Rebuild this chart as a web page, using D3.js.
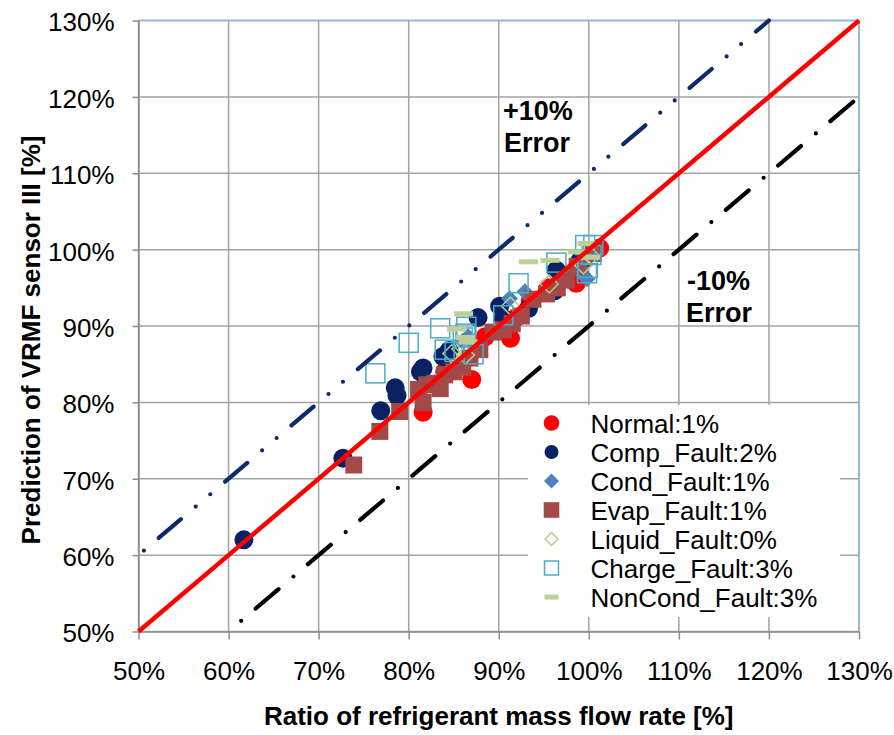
<!DOCTYPE html>
<html>
<head>
<meta charset="utf-8">
<script src="https://cdn.jsdelivr.net/npm/d3@7"></script>
<style>
  html, body { margin: 0; padding: 0; background: #ffffff; }
  svg { display: block; font-family: "Liberation Sans", Arial, sans-serif; }
</style>
</head>
<body>
<svg id="chart" width="894" height="735"></svg>
<script>
// Axis ticks (percent)
const xTicks = [50, 60, 70, 80, 90, 100, 110, 120, 130];
const yTicks = [50, 60, 70, 80, 90, 100, 110, 120, 130];

// Measured ratio vs. VRMF sensor III prediction, per operating condition [%]
const normalPts = [
  [81.6, 78.7], [84.0, 84.0], [87.0, 83.0], [88.5, 88.6], [91.3, 88.4], [91.8, 91.0],
  [93.5, 93.3], [95.5, 95.0], [97.0, 96.5], [98.6, 95.6], [99.5, 98.8], [101.2, 100.2]
];
const compPts = [
  [61.7, 62.0], [72.7, 72.7], [76.9, 78.9], [78.5, 81.9], [78.7, 80.9], [81.3, 84.0],
  [81.6, 84.5], [83.8, 86.0], [84.5, 86.8], [87.7, 91.1], [90.1, 92.6], [90.5, 91.0],
  [93.3, 92.3], [96.2, 94.6], [96.4, 97.3], [99.0, 98.5]
];
const condPts = [
  [86.0, 88.0], [86.6, 88.6], [87.2, 87.4], [91.2, 93.6], [92.9, 94.5], [97.5, 96.5],
  [99.0, 97.6], [99.3, 96.8], [99.8, 96.2], [99.6, 98.8], [100.0, 99.2]
];
const evapPts = [
  [73.9, 71.8], [76.8, 76.2], [79.0, 78.8], [81.1, 81.7], [81.6, 80.0], [82.0, 82.3],
  [82.9, 82.5], [83.5, 81.8], [84.0, 83.6], [85.0, 84.0], [86.0, 84.6], [86.8, 85.8],
  [87.9, 86.9], [89.4, 89.2], [90.5, 89.5], [91.5, 90.3], [92.5, 91.3], [93.8, 93.5],
  [95.3, 94.2], [96.5, 95.0], [97.5, 96.0], [98.7, 97.8], [100.5, 99.5]
];
const liquidPts = [
  [84.8, 86.4], [85.8, 87.0], [86.3, 86.2], [91.3, 92.6], [95.6, 95.5], [99.4, 98.0], [100.2, 99.2]
];
const chargePts = [
  [76.3, 83.8], [80.0, 87.8], [83.5, 89.7], [84.0, 86.9], [85.1, 86.6], [86.0, 88.5],
  [86.3, 89.0], [86.4, 89.9], [87.2, 86.3], [90.5, 91.4], [92.2, 95.6], [96.4, 98.3],
  [99.6, 100.6], [100.5, 100.6], [100.3, 99.3], [99.9, 97.6], [99.8, 96.9]
];
const nonCondPts = [
  [85.3, 89.6], [86.1, 91.6], [86.3, 88.5], [86.6, 87.9], [93.3, 98.4], [95.7, 98.6],
  [98.7, 99.7], [99.8, 100.8], [100.2, 99.0]
];

// Series names (legend order) with their mean errors
const seriesNames = ["Normal:1%", "Comp_Fault:2%", "Cond_Fault:1%", "Evap_Fault:1%",
                     "Liquid_Fault:0%", "Charge_Fault:3%", "NonCond_Fault:3%"];

// Reference lines: y = x + offset over [from, to]
const identityLine = { offset: 0, from: 50, to: 130 };
const plusTenLine = { offset: 10, from: 50.6, to: 120 };
const minusTenLine = { offset: -10, from: 61.4, to: 130 };

const svg = d3.select("#chart");
const plotL = 138.5, plotR = 859, plotT = 20.5, plotB = 631.5;

const x = d3.scaleLinear().domain([50, 130]).range([plotL, plotR]);
const y = d3.scaleLinear().domain([50, 130]).range([plotB, plotT]);

const gridColor = "#a3a3a3";

// Grid
const grid = svg.append("g");
grid.append("g").selectAll("line").data(xTicks).join("line")
  .attr("x1", d => x(d)).attr("x2", d => x(d))
  .attr("y1", plotT).attr("y2", plotB)
  .attr("stroke", gridColor).attr("stroke-width", 1.5);
grid.append("g").selectAll("line").data(yTicks).join("line")
  .attr("x1", plotL).attr("x2", plotR)
  .attr("y1", d => y(d)).attr("y2", d => y(d))
  .attr("stroke", gridColor).attr("stroke-width", 1.5);

// Plot frame (top/right)
svg.append("line").attr("x1", plotL).attr("x2", plotR).attr("y1", plotT).attr("y2", plotT)
  .attr("stroke", "#8db3e2").attr("stroke-width", 1.5);
svg.append("line").attr("x1", plotR).attr("x2", plotR).attr("y1", plotT).attr("y2", plotB)
  .attr("stroke", "#8db3e2").attr("stroke-width", 1.5);

// Axes
const fmt = d => d + "%";
const xAxis = svg.append("g").attr("transform", `translate(0,${plotB})`)
  .call(d3.axisBottom(x).tickValues(xTicks).tickFormat(fmt).tickSize(8).tickPadding(22).tickSizeOuter(0));
const yAxis = svg.append("g").attr("transform", `translate(${plotL},0)`)
  .call(d3.axisLeft(y).tickValues(yTicks).tickFormat(fmt).tickSize(6).tickPadding(18).tickSizeOuter(0));
[xAxis, yAxis].forEach(g => {
  g.select(".domain").attr("stroke", "#8c8c8c").attr("stroke-width", 1.5);
  g.selectAll(".tick line").attr("stroke", "#8c8c8c").attr("stroke-width", 1.5);
  g.selectAll(".tick text").attr("fill", "#000").attr("font-size", 26)
    .attr("font-family", "Liberation Sans, Arial, sans-serif");
});
yAxis.selectAll(".tick text").attr("dy", "0.4em");

// Markers
const markers = svg.append("g");
function drawCircles(data, color, r) {
  markers.append("g").selectAll("circle").data(data).join("circle")
    .attr("cx", d => x(d[0])).attr("cy", d => y(d[1])).attr("r", r).attr("fill", color);
}
function drawSquares(data, size, fill, stroke) {
  markers.append("g").selectAll("rect").data(data).join("rect")
    .attr("x", d => x(d[0]) - size / 2).attr("y", d => y(d[1]) - size / 2)
    .attr("width", size).attr("height", size)
    .attr("fill", fill).attr("stroke", stroke).attr("stroke-width", stroke === "none" ? 0 : 1.5);
}
function diamondPath(cx, cy, h) {
  return `M${cx},${cy - h}L${cx + h},${cy}L${cx},${cy + h}L${cx - h},${cy}Z`;
}
function drawDiamonds(data, h, fill, stroke) {
  markers.append("g").selectAll("path").data(data).join("path")
    .attr("d", d => diamondPath(x(d[0]), y(d[1]), h))
    .attr("fill", fill).attr("stroke", stroke).attr("stroke-width", stroke === "none" ? 0 : 1.5);
}
function drawDashes(data, w, h, color) {
  markers.append("g").selectAll("rect").data(data).join("rect")
    .attr("x", d => x(d[0]) - w / 2).attr("y", d => y(d[1]) - h / 2)
    .attr("width", w).attr("height", h).attr("fill", color);
}

const cNormal = "#ff0000", cComp = "#0a2263", cCond = "#4f81bd", cEvap = "#a34a48",
      cLiquid = "#b5cc8e", cCharge = "#4bacc6", cNonCond = "#bcd197";

drawCircles(normalPts, cNormal, 9.5);
drawCircles(compPts, cComp, 9.5);
drawDiamonds(condPts, 8.5, cCond, "none");
drawSquares(evapPts, 17, cEvap, "none");
drawDiamonds(liquidPts, 9, "none", cLiquid);
drawSquares(chargePts, 19, "none", cCharge);
drawDashes(nonCondPts, 19, 5, cNonCond);

// Reference lines
function refLine(spec) {
  return [[spec.from, spec.from + spec.offset], [spec.to, spec.to + spec.offset]];
}
const lineGen = d3.line().x(d => x(d[0])).y(d => y(d[1]));
svg.append("path").attr("d", lineGen(refLine(plusTenLine)))
  .attr("fill", "none").attr("stroke", "#0d2b6b").attr("stroke-width", 4.2)
  .attr("stroke-linecap", "round").attr("stroke-dasharray", "0,19.5,29,19.5,0,19");
svg.append("path").attr("d", lineGen(refLine(minusTenLine)))
  .attr("fill", "none").attr("stroke", "#000000").attr("stroke-width", 4.2)
  .attr("stroke-linecap", "round").attr("stroke-dasharray", "0,19,30,19.5");
svg.append("path").attr("d", lineGen(refLine(identityLine)))
  .attr("fill", "none").attr("stroke", "#ff0000").attr("stroke-width", 4.5);

// Error band labels
const noteStyle = t => t.attr("font-size", 27).attr("font-weight", "bold").attr("fill", "#000");
svg.append("text").attr("x", 503).attr("y", 120).text("+10%").call(noteStyle);
svg.append("text").attr("x", 504).attr("y", 152).text("Error").call(noteStyle);
svg.append("text").attr("x", 687).attr("y", 290).text("-10%").call(noteStyle);
svg.append("text").attr("x", 686).attr("y", 322).text("Error").call(noteStyle);

// Legend
const legend = svg.append("g");
legend.append("rect").attr("x", 528).attr("y", 405).attr("width", 312).attr("height", 212).attr("fill", "#fff");
const lx = 551.5, ly0 = 423, lstep = 29;
const legendMarks = [
  g => g.append("circle").attr("r", 7.8).attr("fill", cNormal),
  g => g.append("circle").attr("r", 7).attr("fill", cComp),
  g => g.append("path").attr("d", diamondPath(0, 0, 7.5)).attr("fill", cCond),
  g => g.append("rect").attr("x", -7.8).attr("y", -7.8).attr("width", 15.6).attr("height", 15.6).attr("fill", cEvap),
  g => g.append("path").attr("d", diamondPath(0, 0, 6.5)).attr("fill", "none").attr("stroke", cLiquid).attr("stroke-width", 1.5),
  g => g.append("rect").attr("x", -7).attr("y", -7).attr("width", 14).attr("height", 14).attr("fill", "none").attr("stroke", cCharge).attr("stroke-width", 1.5),
  g => g.append("rect").attr("x", -7).attr("y", -2.5).attr("width", 14).attr("height", 5).attr("fill", cNonCond)
];
seriesNames.forEach((name, i) => {
  const g = legend.append("g").attr("transform", `translate(${lx},${ly0 + i * lstep})`);
  legendMarks[i](g);
  legend.append("text").attr("x", 590.5).attr("y", ly0 + i * lstep + 10)
    .attr("font-size", 26).attr("fill", "#000").text(name);
});

// Axis titles
svg.append("text").attr("x", (plotL + plotR) / 2).attr("y", 725)
  .attr("text-anchor", "middle").attr("font-size", 26).attr("font-weight", "bold")
  .text("Ratio of refrigerant mass flow rate [%]");
svg.append("text").attr("transform", "translate(40,340) rotate(-90)")
  .attr("text-anchor", "middle").attr("font-size", 26).attr("font-weight", "bold")
  .text("Prediction of VRMF sensor III [%]");
</script>
</body>
</html>
